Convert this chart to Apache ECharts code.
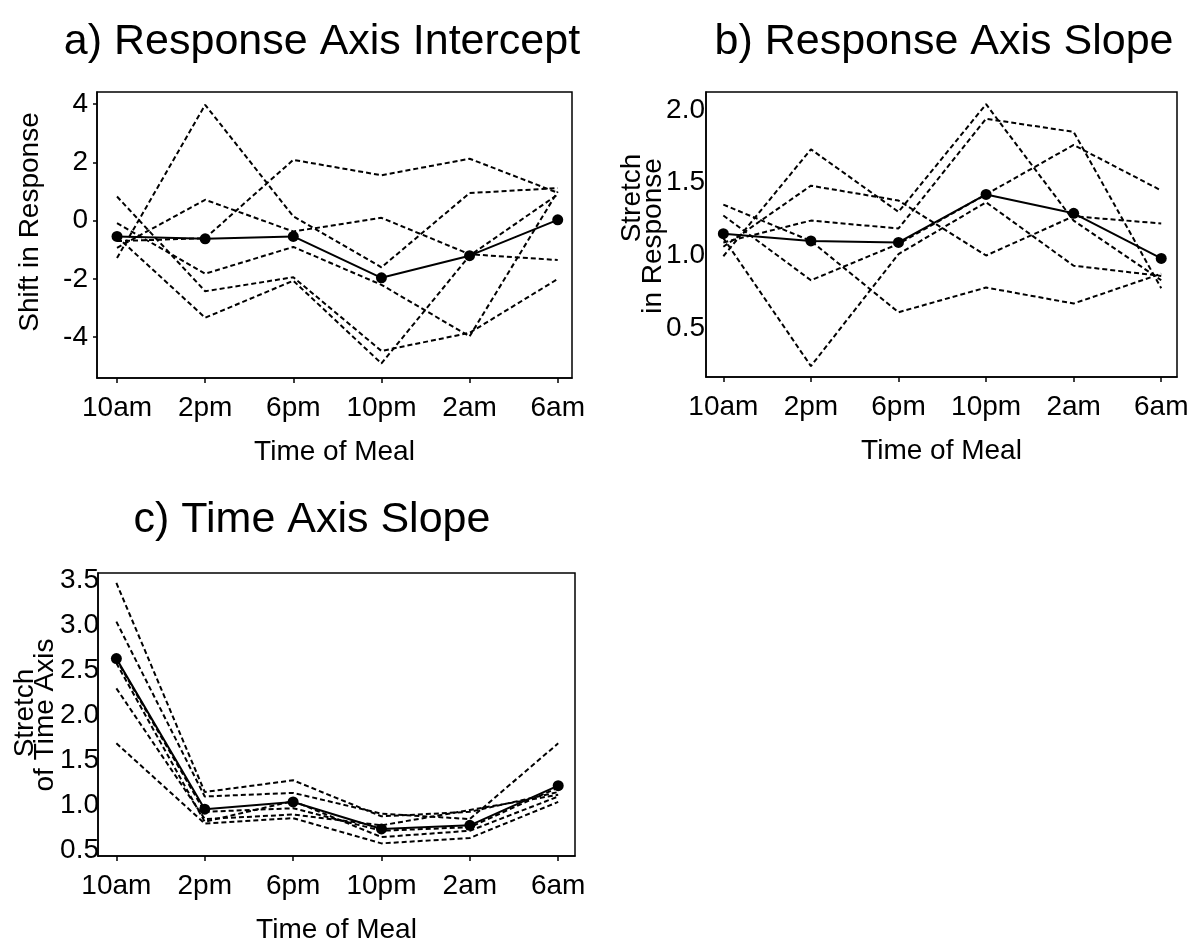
<!DOCTYPE html>
<html><head><meta charset="utf-8">
<script src="https://cdn.jsdelivr.net/npm/echarts@6/dist/echarts.min.js"></script>
<style>html,body{margin:0;padding:0;background:#fff}#c{width:1193px;height:950px}</style>
</head><body><div id="c"></div><script>
// ---- data ----
const categories = ['10am', '2pm', '6pm', '10pm', '2am', '6am'];
const xTickIdx = [0, 1, 2, 3, 4, 5];
const aTicks = [-4, -2, 0, 2, 4];
const bTicks = [0.5, 1.0, 1.5, 2.0];
const cTicks = [0.5, 1.0, 1.5, 2.0, 2.5, 3.0, 3.5];

// a) Response Axis Intercept
const aMean = [-0.54, -0.62, -0.54, -1.96, -1.20, 0.03];
const aS1 = [-1.28, 3.98, 0.15, -1.60, 0.95, 1.12];
const aS2 = [-0.93, 0.72, -0.37, 0.10, -1.15, -1.35];
const aS3 = [-0.70, -0.60, 2.09, 1.56, 2.13, 0.96];
const aS4 = [-0.08, -1.82, -0.90, -2.20, -3.97, 1.00];
const aS5 = [0.83, -2.42, -1.94, -4.47, -3.85, -2.00];
const aS6 = [-0.55, -3.33, -2.06, -4.90, -1.20, 0.90];

// b) Response Axis Slope
const bMean = [1.15, 1.10, 1.09, 1.42, 1.29, 0.98];
const bS1 = [0.995, 1.73, 1.30, 2.04, 1.24, 0.83];
const bS2 = [1.06, 1.48, 1.378, 1.00, 1.27, 1.22];
const bS3 = [1.09, 1.24, 1.186, 1.94, 1.85, 0.775];
const bS4 = [1.35, 1.10, 0.61, 0.78, 0.67, 0.875];
const bS5 = [1.275, 0.83, 1.08, 1.42, 1.76, 1.447];
const bS6 = [1.12, 0.24, 1.01, 1.366, 0.93, 0.86];

// c) Time Axis Slope
const cMean = [2.63, 0.96, 1.04, 0.74, 0.78, 1.22];
const cS1 = [3.47, 1.15, 1.28, 0.88, 0.93, 1.15];
const cS2 = [3.04, 1.10, 1.14, 0.91, 0.85, 1.69];
const cS3 = [2.62, 0.93, 0.97, 0.72, 0.76, 1.20];
const cS4 = [2.30, 0.85, 0.90, 0.78, 0.95, 1.12];
const cS5 = [1.69, 0.80, 0.86, 0.58, 0.64, 1.04];
const cS6 = [2.58, 0.82, 1.05, 0.65, 0.72, 1.10];

// ---- chart ----
const FF = 'Liberation Sans';
const pairs = arr => arr.map((v, i) => [i, v]);

function xAxisFor(gi, min, max) {
  return {
    type: 'value', gridIndex: gi, min: min, max: max,
    splitLine: { show: false },
    axisLine: { show: true, onZero: false, lineStyle: { color: '#000', width: 1.5 } },
    axisTick: { show: true, customValues: xTickIdx, length: 5, lineStyle: { color: '#000', width: 1.5 } },
    axisLabel: { customValues: xTickIdx, formatter: v => categories[Math.round(v)] || '',
      color: '#000', fontSize: 28, fontFamily: FF, margin: 16 },
    name: 'Time of Meal', nameLocation: 'middle', nameGap: 60,
    nameTextStyle: { color: '#000', fontSize: 28, fontFamily: FF }
  };
}
function yAxisFor(gi, min, max, ticks, fmt, margin, showTick) {
  return {
    type: 'value', gridIndex: gi, min: min, max: max,
    splitLine: { show: false },
    axisLine: { show: true, onZero: false, lineStyle: { color: '#000', width: 1.5 } },
    axisTick: { show: showTick, customValues: ticks, length: 4, lineStyle: { color: '#000', width: 1.5 } },
    axisLabel: { customValues: ticks, formatter: fmt, color: '#000', fontSize: 28, fontFamily: FF, margin: margin }
  };
}
function dashed(arr, gi) {
  return { type: 'line', xAxisIndex: gi, yAxisIndex: gi, data: pairs(arr), showSymbol: false,
    symbol: 'none', lineStyle: { color: '#000', width: 2, type: [5, 3] }, z: 2, silent: true };
}
function meanLine(arr, gi) {
  return { type: 'line', xAxisIndex: gi, yAxisIndex: gi, data: pairs(arr), symbol: 'circle',
    symbolSize: 11, itemStyle: { color: '#000' }, lineStyle: { color: '#000', width: 2 }, z: 3, silent: true };
}
function txt(x, y, text, size, rot) {
  return { type: 'text', x: x, y: y, rotation: rot || 0,
    style: { text: text, fill: '#000', fontSize: size, fontFamily: FF, align: 'center', verticalAlign: 'middle' } };
}

const chart = echarts.init(document.getElementById('c'), null, { renderer: 'canvas' });
const R = Math.PI / 2;
chart.setOption({
  animation: false,
  backgroundColor: '#fff',
  grid: [
    { left: 97, top: 92, width: 475, height: 286, show: true, borderColor: '#000', borderWidth: 1.5, backgroundColor: 'transparent' },
    { left: 706, top: 92, width: 471, height: 285, show: true, borderColor: '#000', borderWidth: 1.5, backgroundColor: 'transparent' },
    { left: 98, top: 573, width: 477, height: 283, show: true, borderColor: '#000', borderWidth: 1.5, backgroundColor: 'transparent' }
  ],
  xAxis: [ xAxisFor(0, -0.227, 5.162), xAxisFor(1, -0.198, 5.18), xAxisFor(2, -0.208, 5.19) ],
  yAxis: [
    yAxisFor(0, -5.4, 4.42, aTicks, v => String(v), 9, true),
    yAxisFor(1, 0.165, 2.124, bTicks, v => v.toFixed(1), 1, false),
    yAxisFor(2, 0.44, 3.58, cTicks, v => v.toFixed(1), -1, false)
  ],
  series: [
    dashed(aS1, 0), dashed(aS2, 0), dashed(aS3, 0), dashed(aS4, 0), dashed(aS5, 0), dashed(aS6, 0), meanLine(aMean, 0),
    dashed(bS1, 1), dashed(bS2, 1), dashed(bS3, 1), dashed(bS4, 1), dashed(bS5, 1), dashed(bS6, 1), meanLine(bMean, 1),
    dashed(cS1, 2), dashed(cS2, 2), dashed(cS3, 2), dashed(cS4, 2), dashed(cS5, 2), dashed(cS6, 2), meanLine(cMean, 2)
  ],
  graphic: [
    txt(322, 42, 'a) Response Axis Intercept', 43),
    txt(944, 42, 'b) Response Axis Slope', 43),
    txt(312, 520, 'c) Time Axis Slope', 43),
    txt(30, 222, 'Shift in Response', 28, R),
    txt(632, 198, 'Stretch', 28, R),
    txt(653, 236, 'in Response', 28, R),
    txt(25, 713, 'Stretch', 28, R),
    txt(45, 715, 'of Time Axis', 28, R)
  ]
});
</script></body></html>
